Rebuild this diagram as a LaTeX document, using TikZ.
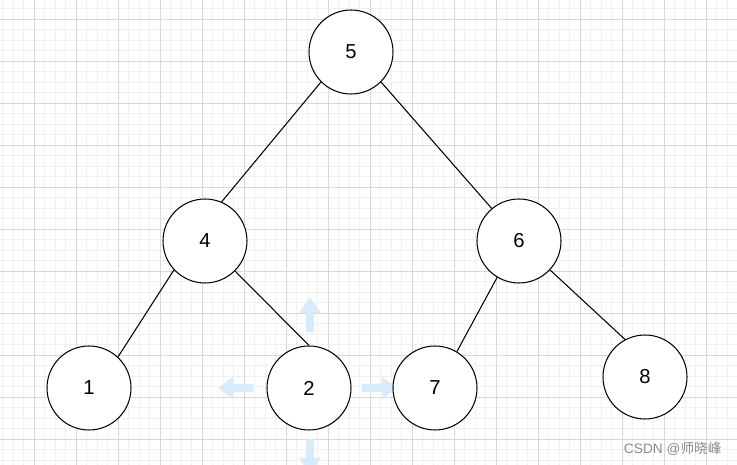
\documentclass[tikz,border=0pt]{standalone}
\usepackage{fontspec}
\setmainfont{Liberation Sans}
\newfontfamily\cjk{Noto Sans CJK SC}
\definecolor{gridmin}{RGB}{240,240,240}
\definecolor{gridmaj}{RGB}{216,216,216}
\definecolor{hoverblue}{RGB}{214,236,250}
\tikzset{
	treenode/.style={draw, circle, fill=white, line width=0.6pt, inner sep=0pt, minimum size=1.68cm, font=\fontsize{11.5}{13}\selectfont},
	treeedge/.style={line width=0.6pt},
	hoverarrow/.style={fill=hoverblue, draw=none}
}
\begin{document}
\begin{tikzpicture}[x=0.02cm, y=-0.02cm]
	\useasboundingbox (0,0) rectangle (737,465);
	\clip (0,0) rectangle (737,465);
	% background grid
	\foreach \i in {0,...,70} \draw[gridmin, line width=0.5pt] ({2.5+10.5*\i},0) -- ({2.5+10.5*\i},465);
	\foreach \i in {0,...,44} \draw[gridmin, line width=0.5pt] (0,{8.5+10.5*\i}) -- (737,{8.5+10.5*\i});
	\foreach \i in {0,...,16} \draw[gridmaj, line width=0.5pt] ({34+42*\i},0) -- ({34+42*\i},465);
	\foreach \i in {0,...,10} \draw[gridmaj, line width=0.5pt] (0,{19+42*\i}) -- (737,{19+42*\i});
	% hover arrows round node 2
	\fill[hoverarrow] (306,332) -- (306,313) -- (299,313) -- (310,297) -- (321,313) -- (314,313) -- (314,332) -- cycle;
	\fill[hoverarrow] (253,384) -- (233,384) -- (233,377) -- (218,388) -- (233,399) -- (233,392) -- (253,392) -- cycle;
	\fill[hoverarrow] (362,384) -- (382,384) -- (382,377) -- (397,388) -- (382,399) -- (382,392) -- (362,392) -- cycle;
	\fill[hoverarrow] (306,439) -- (306,458) -- (299,458) -- (310,474) -- (321,458) -- (314,458) -- (314,439) -- cycle;
	% tree
	\node[treenode] (n5) at (351,52) {5};
	\node[treenode] (n4) at (205,241) {4};
	\node[treenode] (n6) at (519,241) {6};
	\node[treenode] (n1) at (89,388) {1};
	\node[treenode] (n2) at (309,388) {2};
	\node[treenode] (n7) at (435,388) {7};
	\node[treenode] (n8) at (645,377) {8};
	\draw[treeedge] (n5.225) -- (n4.67);
	\draw[treeedge] (n5.315) -- (n6.130);
	\draw[treeedge] (n4.223) -- (n1.47);
	\draw[treeedge] (n4.315) -- (n2.north);
	\draw[treeedge] (n6.239) -- (n7.59);
	\draw[treeedge] (n6.317) -- (n8.118);
	% watermark
	\node[anchor=east, text={rgb,255:red,140;green,140;blue,140}, font=\fontsize{7.8}{9}\selectfont, inner sep=0pt] (mark) at (722,449) {CSDN @{\cjk 师晓峰}};
\end{tikzpicture}
\end{document}
